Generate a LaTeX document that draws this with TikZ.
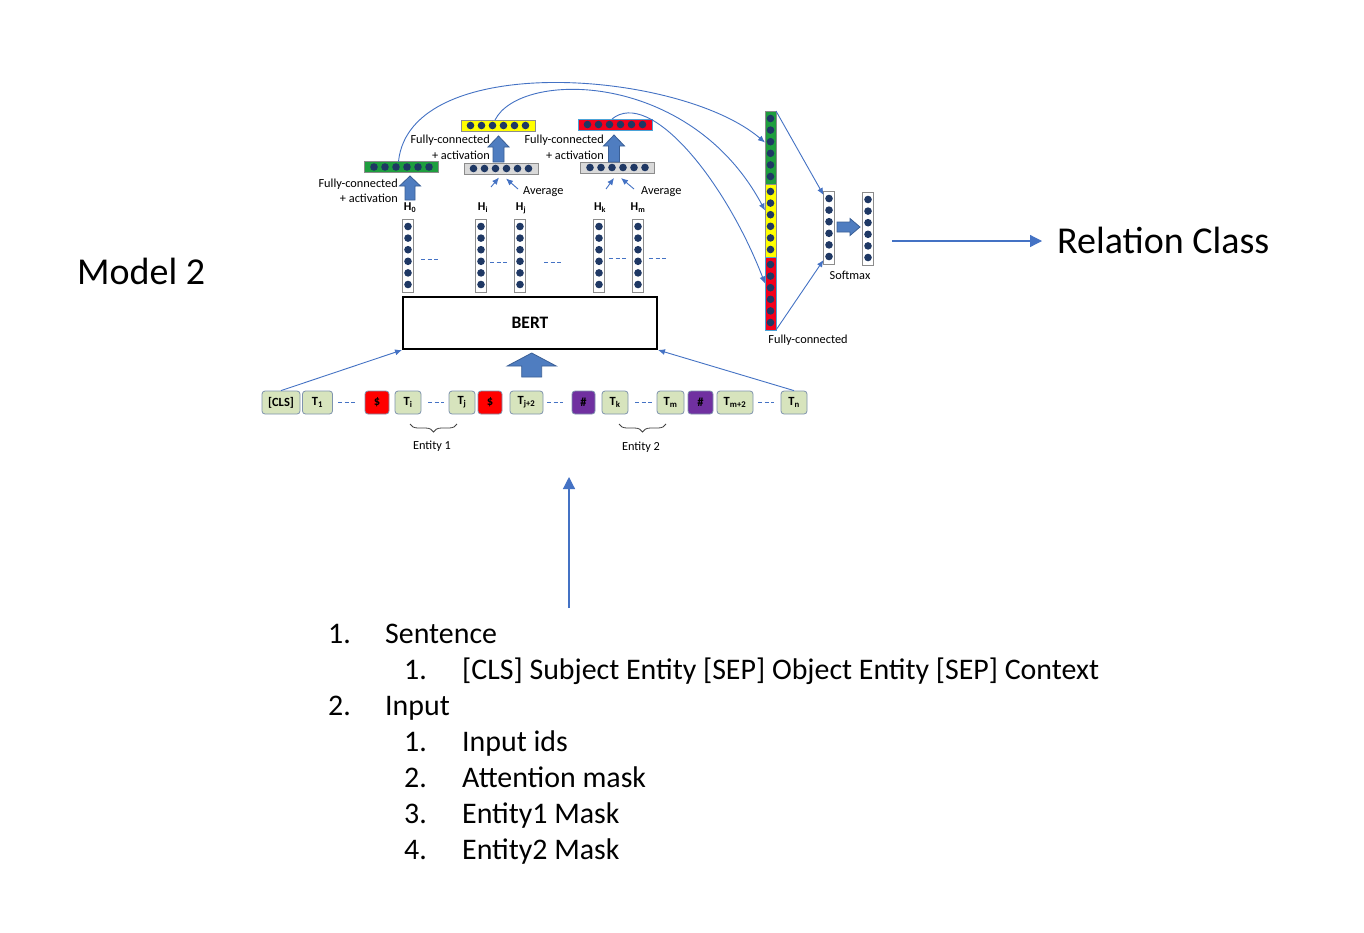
\documentclass[tikz,border=0pt]{standalone}
\usepackage{fontspec}
\setmainfont{Carlito}
\usetikzlibrary{arrows.meta,calc,decorations.pathreplacing}

\definecolor{lineblue}{HTML}{4472C4}
\definecolor{fatblue}{HTML}{4F7DC0}
\definecolor{fatedge}{HTML}{3A5F96}
\definecolor{dotnavy}{HTML}{1F3864}
\definecolor{tokgreen}{HTML}{D7E4BD}
\definecolor{tokedge}{HTML}{7F93AE}
\definecolor{vecgray}{HTML}{D9D9D9}
\definecolor{vecedge}{HTML}{8C8C8C}
\definecolor{fcgreen}{HTML}{1E9E3E}
\definecolor{fcyellow}{HTML}{FFFF00}
\definecolor{fcred}{HTML}{F2001C}
\definecolor{fcredge}{HTML}{4BA3D8}
\definecolor{mkred}{HTML}{FF0000}
\definecolor{mkpurple}{HTML}{7030A0}

\newcommand{\labfont}{\fontsize{12.3}{15.5}\selectfont}
\newcommand{\bigfont}{\fontsize{38}{46}\selectfont}
\newcommand{\listfont}{\fontsize{29.9}{36}\selectfont}

\tikzset{
  tok/.style={draw=tokedge, fill=tokgreen, rounded corners=3pt, minimum height=23pt,
    inner sep=0pt, line width=0.8pt, font=\fontsize{12.5}{14}\selectfont\bfseries},
  hbox/.style={draw=vecedge, line width=0.8pt, minimum width=74pt, minimum height=11pt,
    inner sep=0pt, outer sep=0pt},
  vbox/.style={draw=vecedge, line width=0.8pt, minimum width=11pt, minimum height=73pt,
    inner sep=0pt, outer sep=0pt},
  lab/.style={font=\labfont, inner sep=0pt},
  hlab/.style={font=\fontsize{12}{14}\selectfont\bfseries, inner sep=0pt},
  listf/.style={font=\listfont, inner sep=0pt, anchor=base west},
  thinarr/.style={lineblue, line width=0.9pt, -{Latex[length=7pt,width=6pt]}},
  longarr/.style={lineblue, line width=1.2pt, -{Triangle[length=12pt,width=12pt]}},
  gap/.style={lineblue, line width=1pt, dash pattern=on 4pt off 2.5pt},
  fat/.style={fill=fatblue, draw=fatedge, line width=0.8pt},
}

% vector of six dots, lying
\newcommand{\hvec}[4]{%
  \node[hbox, fill=#4] (#1) at (#2,#3) {};
  \foreach \dotk in {-2.5,-1.5,...,2.5}
    \fill[dotnavy] ($(#1.center)+(\dotk*11,0)$) circle (3.8pt);
}
% vector of six dots, standing
\newcommand{\vvec}[4]{%
  \node[vbox, fill=#4] (#1) at (#2,#3) {};
  \foreach \dotk in {-2.5,-1.5,...,2.5}
    \fill[dotnavy] ($(#1.center)+(0,\dotk*11.6)$) circle (3.8pt);
}
% block arrow up: x, y base, y tip, half shaft, half head, head length
\newcommand{\fatup}[6]{%
  \filldraw[fat] ({#1-#4},#2) -- ({#1-#4},{#3+#6}) -- ({#1-#5},{#3+#6}) -- (#1,#3)
    -- ({#1+#5},{#3+#6}) -- ({#1+#4},{#3+#6}) -- ({#1+#4},#2) -- cycle;
}
% block arrow right: x base, x tip, y, half shaft, half head, head length
\newcommand{\fatright}[6]{%
  \filldraw[fat] (#1,{#3-#4}) -- ({#2-#6},{#3-#4}) -- ({#2-#6},{#3-#5}) -- (#2,#3)
    -- ({#2-#6},{#3+#5}) -- ({#2-#6},{#3+#4}) -- (#1,{#3+#4}) -- cycle;
}

\begin{document}
\begin{tikzpicture}[x=1pt,y=-1pt]
\def \ytok {402.5};
\def \yhid {255.5};
\def \yhlab {208};

\fill[white] (0,0) rectangle (1364,932);
\useasboundingbox (0,0) rectangle (1364,932);

\node[font=\bigfont, inner sep=0pt, anchor=base west] (model) at (77,284) {Model 2};
\node[font=\bigfont, inner sep=0pt, anchor=base west] (rel) at (1057,253.5) {Relation Class};

% tokens
\node[tok, minimum width=38pt] (cls) at (281,\ytok) {[CLS]};
\node[tok, minimum width=30pt] (t1) at (317.5,\ytok) {T\textsubscript{1}};
\node[tok, minimum width=24pt, fill=mkred] (d1) at (377,\ytok) {\$};
\node[tok, minimum width=26pt] (ti) at (408,\ytok) {T\textsubscript{i}};
\node[tok, minimum width=26pt] (tj) at (462,\ytok) {T\textsubscript{j}};
\node[tok, minimum width=24pt, fill=mkred] (d2) at (490,\ytok) {\$};
\node[tok, minimum width=33pt] (tj2) at (526.5,\ytok) {T\textsubscript{j+2}};
\node[tok, minimum width=23pt, fill=mkpurple] (p1) at (583.5,\ytok) {\#};
\node[tok, minimum width=26pt] (tk) at (615,\ytok) {T\textsubscript{k}};
\node[tok, minimum width=27pt] (tm) at (670.5,\ytok) {T\textsubscript{m}};
\node[tok, minimum width=25pt, fill=mkpurple] (p2) at (700.5,\ytok) {\#};
\node[tok, minimum width=36pt] (tm2) at (735,\ytok) {T\textsubscript{m+2}};
\node[tok, minimum width=26pt] (tn) at (794,\ytok) {T\textsubscript{n}};

\draw[gap] (338,\ytok) -- (355,\ytok);
\draw[gap] (428,\ytok) -- (444,\ytok);
\draw[gap] (547,\ytok) -- (563,\ytok);
\draw[gap] (635,\ytok) -- (652,\ytok);
\draw[gap] (758,\ytok) -- (774,\ytok);

% entity braces
\draw[decorate, decoration={brace, mirror, amplitude=8pt}, line width=0.8pt, black!75] (410,424) -- (457,424);
\draw[decorate, decoration={brace, mirror, amplitude=8pt}, line width=0.8pt, black!75] (619,424) -- (666,424);
\node[lab] (ent1) at (432,446) {Entity 1};
\node[lab] (ent2) at (641,447) {Entity 2};

% encoder
\node[draw=black, line width=2pt, minimum width=254pt, minimum height=52pt, inner sep=0pt,
  font=\fontsize{17.5}{20}\selectfont\bfseries] (bert) at (530,323) {BERT};
\fatup{531.7}{377}{353}{10}{24.5}{13}
\draw[thinarr] (cls.north) -- (bert.south west);
\draw[thinarr] (tn.north) -- (bert.south east);

% hidden states
\vvec{h0}{408}{\yhid}{white}
\vvec{hi}{481}{\yhid}{white}
\vvec{hj}{520}{\yhid}{white}
\vvec{hk}{599}{\yhid}{white}
\vvec{hm}{638}{\yhid}{white}
\draw[gap] (421,259) -- (438,259);
\draw[gap] (490,262) -- (507,262);
\draw[gap] (544,262) -- (561,262);
\draw[gap] (609,258) -- (626,258);
\draw[gap] (649,258) -- (666,258);

\node[hlab] (lh0) at (410,\yhlab) {H\textsubscript{0}};
\node[hlab] (lhi) at (483,\yhlab) {H\textsubscript{i}};
\node[hlab] (lhj) at (521,\yhlab) {H\textsubscript{j}};
\node[hlab] (lhk) at (600,\yhlab) {H\textsubscript{k}};
\node[hlab] (lhm) at (638,\yhlab) {H\textsubscript{m}};

% averaged and fully-connected vectors
\hvec{fc0}{401.5}{167}{fcgreen}
\hvec{avg1}{501}{168.5}{vecgray}
\hvec{fc1}{498}{125.5}{fcyellow}
\hvec{avg2}{617.5}{167.5}{vecgray}
\hvec{fc2}{615}{124.5}{fcred, draw=fcredge}

\fatup{410}{200}{176}{5}{10.5}{10}
\fatup{498.5}{162}{136}{5.5}{10.5}{11}
\fatup{614}{162}{135}{5.5}{10.5}{11}

\node[lab, anchor=east, align=right] (fcl0) at (398,191) {Fully-connected\\+ activation};
\node[lab, anchor=east, align=right] (fcl1) at (490,147.5) {Fully-connected\\+ activation};
\node[lab, anchor=east, align=right] (fcl2) at (604,147.5) {Fully-connected\\+ activation};
\node[lab, anchor=west] (av1) at (523,192) {Average};
\node[lab, anchor=west] (av2) at (641,192) {Average};

\coordinate (shi) at (491,187);
\coordinate (shj) at (518,189);
\coordinate (shk) at (606,189);
\coordinate (shm) at (634,189);
\draw[thinarr] (shi) -- ([shift={(-2,3.5)}]avg1.south);
\draw[thinarr] (shj) -- ([shift={(5,4.5)}]avg1.south);
\draw[thinarr] (shk) -- ([shift={(-3.5,5)}]avg2.south);
\draw[thinarr] (shm) -- ([shift={(3.5,5)}]avg2.south);

% concatenation
\vvec{cat0}{770.5}{147.5}{fcgreen}
\vvec{cat1}{770.5}{220.5}{fcyellow}
\vvec{cat2}{770.5}{293.5}{fcred, draw=fcredge}
\node[lab] (fcl3) at (808,340) {Fully-connected};

\draw[thinarr] ([xshift=-3pt]fc0.north) .. controls (410,50) and (680,70) .. ([yshift=5pt]cat0.west);
\draw[thinarr] ([xshift=-3pt]fc1.north) .. controls (520,70) and (690,70) .. ([yshift=10pt]cat1.west);
\draw[thinarr] ([xshift=-3pt]fc2.north) .. controls (650,88) and (725,180) .. ([yshift=10pt]cat2.west);

% softmax
\vvec{soft}{829}{227.5}{white}
\vvec{out}{868}{228.5}{white}
\fatright{837}{860}{227}{5}{8.5}{10}
\node[lab] (smx) at (850,275) {Softmax};
\draw[thinarr] (cat0.north east) -- ([yshift=-4pt]soft.north west);
\draw[thinarr] (cat2.south east) -- ([yshift=4pt]soft.south west);

\coordinate (relsrc) at (892,241);
\coordinate (relend) at (1042,241);
\draw[longarr] (relsrc) -- (relend);

\coordinate (listtop) at (569,608);
\coordinate (tokbot) at (569,477);
\draw[longarr] (listtop) -- (tokbot);

% input description
\node[listf] (n1) at (328,643.5) {1.};
\node[listf] (l1) at (385,643.5) {Sentence};
\node[listf] (n11) at (404,679.5) {1.};
\node[listf] (l11) at (462,679.5) {[CLS] Subject Entity [SEP] Object Entity [SEP] Context};
\node[listf] (n2) at (328,715.5) {2.};
\node[listf] (l2) at (385,715.5) {Input};
\node[listf] (n21) at (404,751.5) {1.};
\node[listf] (l21) at (462,751.5) {Input ids};
\node[listf] (n22) at (404,787.5) {2.};
\node[listf] (l22) at (462,787.5) {Attention mask};
\node[listf] (n23) at (404,823.5) {3.};
\node[listf] (l23) at (462,823.5) {Entity1 Mask};
\node[listf] (n24) at (404,859.5) {4.};
\node[listf] (l24) at (462,859.5) {Entity2 Mask};

\end{tikzpicture}
\end{document}
